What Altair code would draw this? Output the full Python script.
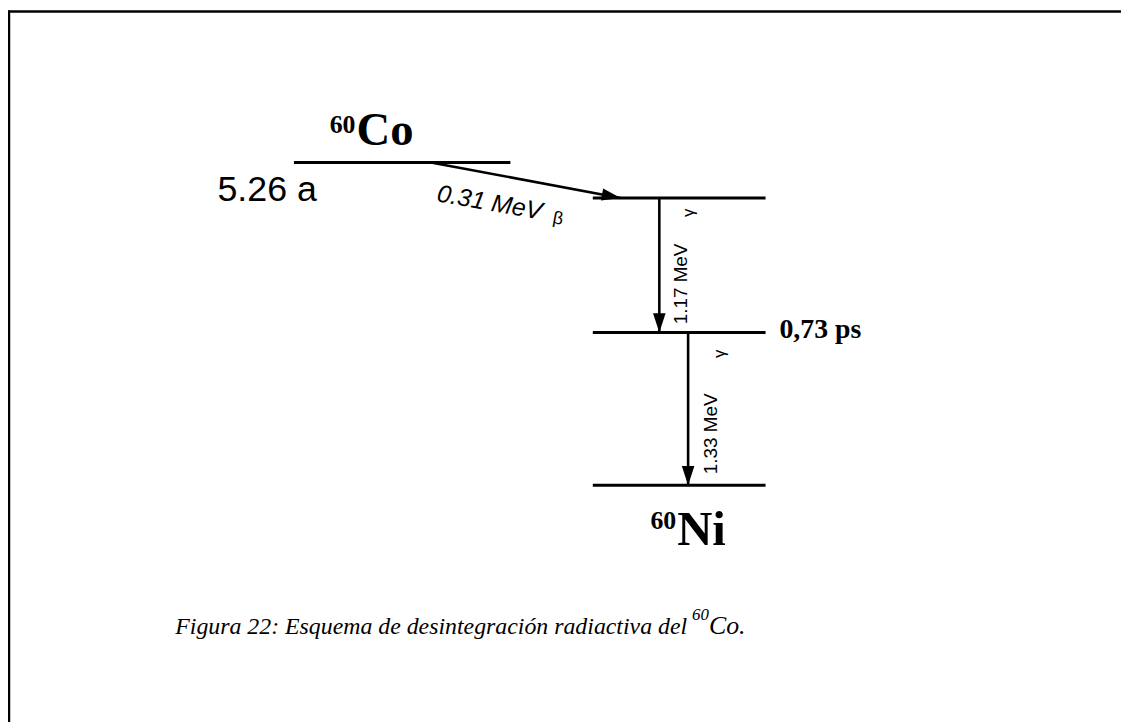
import math
import altair as alt
import pandas as pd

# ---------------- data ----------------
level_names = ["60Co", "60Ni* 2.50", "60Ni* 1.33", "60Ni"]
level_energy = [2.81, 2.50, 1.33, 0.0]          # MeV
trans_from = [2.81, 2.50, 1.33]                  # MeV
trans_to = [2.50, 1.33, 0.0]                     # MeV
trans_label = ["0.31 MeV", "1.17 MeV", "1.33 MeV"]
trans_particle = ["β", "γ", "γ"]
half_life_co = "5.26 a"
half_life_level = "0,73 ps"
caption_main = "Figura 22: Esquema de desintegración radiactiva del"
caption_sup = "60"
caption_end = "Co."

# ---------------- layout ----------------
W, H = 1121, 714
PX_PER_MEV = 115.75
GROUND_Y = 478.2
y_dom = [(GROUND_Y - H) / PX_PER_MEV, GROUND_Y / PX_PER_MEV]
xs = alt.Scale(domain=[0, W], range=[0, W], nice=False, zero=False)
ys = alt.Scale(domain=y_dom, range=[H, 0], nice=False, zero=False)

level_x = [(288, 506), (589, 763), (589, 763), (589, 763)]
trans_x = [(426, 617), (656, 656), (685, 685)]

levels = pd.DataFrame({
    "name": level_names,
    "E": level_energy,
    "x0": [a for a, b in level_x],
    "x1": [b for a, b in level_x],
})

angles = []
sizes = []
for (xa, xb), ea, eb in zip(trans_x, trans_from, trans_to):
    dx = xb - xa
    dy = (ea - eb) * PX_PER_MEV
    angles.append(math.degrees(math.atan2(dy, dx)))
    sizes.append(361 if dx != 0 else 380)

trans = pd.DataFrame({
    "label": trans_label,
    "Ea": trans_from,
    "Eb": trans_to,
    "xa": [a for a, b in trans_x],
    "xb": [b for a, b in trans_x],
    "ang": angles,
    "sz": sizes,
})

level_layer = alt.Chart(levels).mark_rule(strokeWidth=3, color="black", strokeCap="butt").encode(
    x=alt.X("x0:Q", scale=xs, axis=None),
    x2="x1:Q",
    y=alt.Y("E:Q", scale=ys, axis=None),
)

trans_layer = alt.Chart(trans).mark_rule(strokeWidth=2.6, color="black", strokeCap="butt").encode(
    x=alt.X("xa:Q", scale=xs, axis=None),
    x2="xb:Q",
    y=alt.Y("Ea:Q", scale=ys, axis=None),
    y2="Eb:Q",
)

ARROW = "M0,0 L-2,-0.65 L-2,0.65 Z"
head_layer = alt.Chart(trans).mark_point(shape=ARROW, filled=True, color="black", opacity=1, strokeWidth=0).encode(
    x=alt.X("xb:Q", scale=xs, axis=None),
    y=alt.Y("Eb:Q", scale=ys, axis=None),
    angle=alt.Angle("ang:Q", scale=None),
    size=alt.Size("sz:Q", scale=None, legend=None),
)

SERIF = "Liberation Serif"
SANS = "Liberation Sans"


def txt(text, x, y, size, font, weight="normal", style="normal", align="left", angle=0):
    kw = dict(fontSize=size, font=font, fontWeight=weight, fontStyle=style,
              align=align, baseline="alphabetic", color="black")
    if angle:
        kw["angle"] = angle
    return alt.Chart(pd.DataFrame({"t": [text]})).mark_text(**kw).encode(
        text="t:N", x=alt.value(x), y=alt.value(y))


texts = [
    txt("60", 350, 123, 26, SERIF, weight="bold", align="right"),
    txt("Co", 351, 135, 47, SERIF, weight="bold"),
    txt(half_life_co, 211, 191.5, 36, SANS),
    txt(trans_label[0], 431, 192, 25, SANS, style="italic", angle=10),
    txt(trans_particle[0], 548, 214, 18, SANS, angle=10),
    txt(trans_label[1], 684, 316, 19, SANS, angle=270),
    txt(trans_particle[1], 691, 208, 17, SANS, angle=270),
    txt(trans_label[2], 714, 467, 19, SANS, angle=270),
    txt(trans_particle[2], 722, 350, 17, SANS, angle=270),
    txt(half_life_level, 777, 330, 28, SERIF, weight="bold"),
    txt("60", 673, 522, 26, SERIF, weight="bold", align="right"),
    txt("Ni", 674, 538, 49, SERIF, weight="bold"),
    txt(caption_main, 684, 628, 24, SERIF, style="italic", align="right"),
    txt(caption_sup, 689, 614, 17, SERIF, style="italic"),
    txt(caption_end, 706, 628, 26, SERIF, style="italic"),
]

border_top = alt.Chart(pd.DataFrame({"a": [0]})).mark_rule(color="black", strokeWidth=2.5).encode(
    x=alt.value(0), x2=alt.value(W + 10), y=alt.value(1))
border_left = alt.Chart(pd.DataFrame({"a": [0]})).mark_rule(color="black", strokeWidth=2.5).encode(
    x=alt.value(1), y=alt.value(0), y2=alt.value(H + 10))

chart = alt.layer(border_top, border_left, level_layer, trans_layer, head_layer, *texts).properties(
    width=W, height=H,
    autosize=alt.AutoSizeParams(type="none"),
    padding=0,
    background="white",
).configure_view(stroke=None)

chart.save("out.html", embed_options={"renderer": "svg", "actions": False})
